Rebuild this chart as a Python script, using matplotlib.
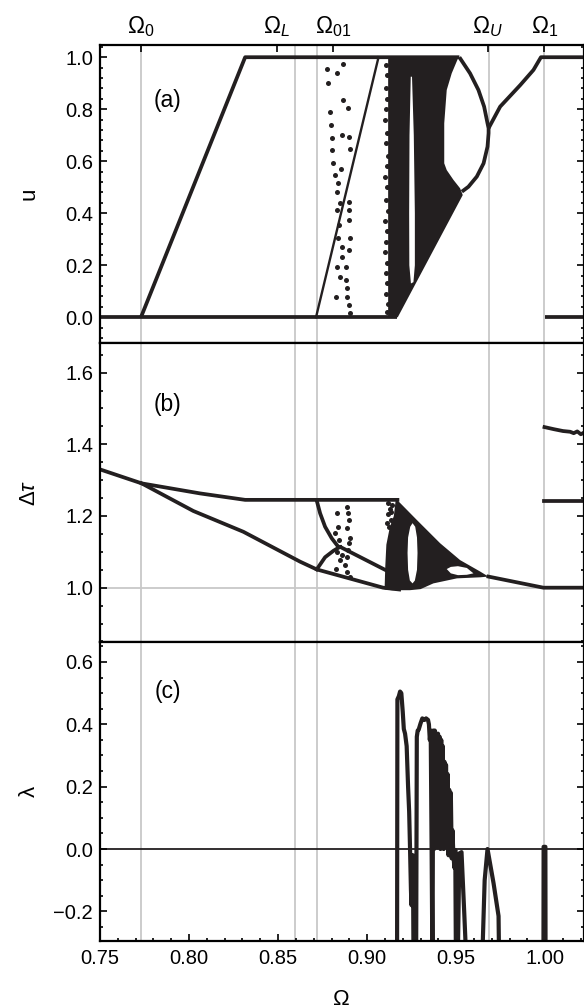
import matplotlib
matplotlib.use("Agg")
import matplotlib.pyplot as plt
from matplotlib.ticker import MultipleLocator

plt.rcParams['font.family'] = ['Liberation Sans', 'DejaVu Sans']
plt.rcParams['mathtext.fontset'] = 'custom'
plt.rcParams['mathtext.rm'] = 'Liberation Sans'
plt.rcParams['mathtext.it'] = 'Liberation Sans:italic'
plt.rcParams['font.size'] = 14.5

INK = '#231f20'
GREY = '#c8c8c8'

# marked parameter values (grey guide lines) and top tick labels
guide_x = [0.773, 0.8596, 0.8721, 0.9682, 0.9996]
top_ticks = [0.773, 0.8493, 0.8811, 0.9678, 0.9996]
top_labels = [r'$\Omega_0$', r'$\Omega_L$', r'$\Omega_{01}$', r'$\Omega_U$', r'$\Omega_1$']

# ---- panel (a): u ----
a_lines = [
    ([0.75, 0.9170], [0.0, 0.0]),
    ([0.773, 0.8315, 0.9518], [0.0, 1.0, 1.0]),
    ([0.9518, 0.9578, 0.9625, 0.9657, 0.9676, 0.9682, 0.9682, 0.9676, 0.9654, 0.9616, 0.9569, 0.9532],
     [1.0, 0.938, 0.874, 0.81, 0.746, 0.727, 0.708, 0.656, 0.592, 0.541, 0.502, 0.483]),
    ([0.9682, 0.9747, 0.9860, 0.9934, 0.9976, 1.0215], [0.727, 0.81, 0.893, 0.951, 1.0, 1.0]),
    ([0.9998, 1.0215], [0.0, 0.0]),
]
a_thin_x = [0.8713, 0.9064]
a_thin_u = [0.0, 1.0]
a_dense_x = [0.9118, 0.9118, 0.9513, 0.9475, 0.9447, 0.9433, 0.9433, 0.9447, 0.9485, 0.9522, 0.9537, 0.9172]
a_dense_u = [0.0, 1.0, 1.0, 0.938, 0.874, 0.746, 0.592, 0.566, 0.528, 0.496, 0.470, 0.0]
a_gap_x = [0.9245, 0.9252, 0.9262, 0.9268, 0.9268, 0.9260, 0.9246, 0.9237, 0.9236, 0.9238]
a_gap_u = [0.925, 0.925, 0.70, 0.40, 0.20, 0.135, 0.13, 0.20, 0.40, 0.70]
a_dots_x = [0.8774, 0.8833, 0.8867, 0.8783, 0.8863, 0.8895, 0.8792, 0.8796, 0.8805, 0.8858,
            0.8901, 0.8805, 0.8904, 0.8811, 0.8852, 0.8820, 0.8839, 0.8830, 0.8848, 0.8901,
            0.8833, 0.8901, 0.8901, 0.8844, 0.8839, 0.8904, 0.8858, 0.8901, 0.8858, 0.8833,
            0.8882, 0.8848, 0.8882, 0.8886, 0.8826, 0.8886, 0.8901, 0.8904,
            0.9105, 0.9112, 0.9104, 0.9114, 0.9108, 0.9101, 0.9113, 0.9106, 0.9115, 0.9109,
            0.9102, 0.9112, 0.9106, 0.9115, 0.9103, 0.9111, 0.9108, 0.9100, 0.9114, 0.9107,
            0.9110, 0.9104, 0.9115, 0.9109]
a_dots_u = [0.954, 0.938, 0.974, 0.900, 0.836, 0.804, 0.791, 0.740, 0.688, 0.701,
            0.692, 0.643, 0.646, 0.592, 0.569, 0.547, 0.515, 0.483, 0.438, 0.445,
            0.413, 0.413, 0.374, 0.355, 0.304, 0.304, 0.272, 0.259, 0.233, 0.195,
            0.195, 0.156, 0.143, 0.112, 0.079, 0.079, 0.047, 0.015,
            0.97, 0.93, 0.88, 0.84, 0.80, 0.76, 0.71, 0.67, 0.62, 0.58,
            0.54, 0.50, 0.45, 0.41, 0.37, 0.33, 0.29, 0.25, 0.21, 0.17,
            0.13, 0.09, 0.05, 0.02]

# ---- panel (b): delta tau ----
b_lines = [
    ([0.75, 0.7734, 0.8062, 0.8315, 0.9170], [1.330, 1.291, 1.263, 1.245, 1.245]),
    ([0.7734, 0.8024, 0.8305, 0.8624, 0.8717, 0.9090, 0.9180], [1.291, 1.214, 1.156, 1.0725, 1.051, 1.0, 0.995]),
    ([0.8717, 0.8764, 0.8811, 0.8848, 0.9120], [1.051, 1.085, 1.103, 1.114, 1.045]),
    ([0.8717, 0.8736, 0.8764, 0.8801, 0.8838, 0.8848], [1.243, 1.2075, 1.170, 1.138, 1.114, 1.114]),
    ([0.9681, 0.9990, 1.0215], [1.031, 1.0, 1.0]),
    ([0.9996, 1.0215], [1.243, 1.243]),
    ([0.9996, 1.005, 1.010, 1.014, 1.016, 1.018, 1.020, 1.0215], [1.448, 1.442, 1.437, 1.435, 1.431, 1.436, 1.428, 1.432]),
]
b_dense_x = [0.9098, 0.9102, 0.9108, 0.9128, 0.9150, 0.9160, 0.9172, 0.9279, 0.9410, 0.9522,
             0.9635, 0.9681, 0.9635, 0.9504, 0.9372, 0.9300, 0.9240, 0.9140]
b_dense_t = [0.995, 1.06, 1.12, 1.17, 1.20, 1.243, 1.243, 1.189, 1.124, 1.077,
             1.045, 1.031, 1.029, 1.026, 1.012, 0.996, 0.993, 0.993]
b_oval_x = [0.9255, 0.9270, 0.9280, 0.9283, 0.9280, 0.9268, 0.9255, 0.9240, 0.9230, 0.9227, 0.9230, 0.9242]
b_oval_t = [1.180, 1.170, 1.140, 1.097, 1.050, 1.020, 1.012, 1.020, 1.050, 1.097, 1.140, 1.170]
b_lens_x = [0.9447, 0.9470, 0.9510, 0.9560, 0.9597, 0.9560, 0.9510, 0.9470]
b_lens_t = [1.052, 1.058, 1.060, 1.055, 1.040, 1.036, 1.035, 1.040]
b_dots_x = [0.8830, 0.8839, 0.8820, 0.8844, 0.8833, 0.8848, 0.8826, 0.8858, 0.8886, 0.8895,
            0.8901, 0.8889, 0.8904, 0.8901, 0.8895, 0.8886, 0.8876, 0.8886, 0.8904,
            0.9115, 0.9128, 0.9120, 0.9135, 0.9112, 0.9140, 0.9125, 0.9132]
b_dots_t = [1.2075, 1.170, 1.152, 1.133, 1.100, 1.077, 1.051, 1.091, 1.226, 1.2075,
            1.189, 1.166, 1.138, 1.124, 1.105, 1.086, 1.063, 1.045, 1.031,
            1.235, 1.220, 1.205, 1.190, 1.180, 1.230, 1.170, 1.212]

# ---- panel (c): lyapunov exponent ----
lam_x = [0.9168, 0.9170, 0.9178, 0.9185, 0.9192, 0.9200, 0.9206, 0.9213, 0.9222, 0.9230,
         0.9236, 0.9241, 0.9246, 0.9249, 0.9252, 0.9257, 0.9261, 0.9275, 0.9279, 0.9284,
         0.9289, 0.9300, 0.9310, 0.9322, 0.9331, 0.9342, 0.9347, 0.9352, 0.9357, 0.9362,
         0.9367, 0.9371, 0.9376, 0.9380, 0.9385, 0.9389, 0.9394, 0.9398, 0.9403, 0.9407,
         0.9412, 0.9416, 0.9421, 0.9425, 0.9430, 0.9434, 0.9439, 0.9443, 0.9448, 0.9452,
         0.9457, 0.9461, 0.9466, 0.9470, 0.9475, 0.9479, 0.9484, 0.9490, 0.9495, 0.9499,
         0.9508, 0.9518, 0.9530, 0.9545, 0.9560, 0.9644, 0.9660, 0.9676, 0.9710, 0.9738,
         0.9742, 0.9990, 0.9991, 1.0001, 1.0002]
lam_y = [-0.40, 0.48, 0.49, 0.505, 0.50, 0.44, 0.385, 0.37, 0.33, 0.20,
         0.12, 0.00, -0.13, -0.18, -0.02, -0.02, -0.40, -0.40, 0.36, 0.38,
         0.382, 0.403, 0.419, 0.414, 0.419, 0.414, 0.40, 0.35, 0.38, 0.007,
         -0.40, 0.38, 0.00, 0.38, 0.01, 0.37, 0.005, 0.37, 0.02, 0.36,
         0.00, 0.35, 0.05, 0.33, 0.00, 0.28, 0.05, 0.27, 0.03, 0.24,
         -0.02, 0.19, 0.02, 0.18, -0.03, 0.06, -0.014, -0.06, -0.003, -0.40,
         -0.40, -0.014, -0.010, -0.20, -0.40, -0.40, -0.10, 0.0, -0.11, -0.215,
         -0.40, -0.40, 0.007, 0.007, -0.40]

fig = plt.figure(figsize=(5.84, 10.08), dpi=100)
L, W = 100 / 584, 483.5 / 584
ax_a = fig.add_axes([L, 1 - 343 / 1008, W, 298 / 1008])
ax_b = fig.add_axes([L, 1 - 642 / 1008, W, 299 / 1008])
ax_c = fig.add_axes([L, 1 - 941 / 1008, W, 299 / 1008])

for ax in (ax_a, ax_b, ax_c):
    ax.set_xlim(0.75, 1.0215)
    for xg in guide_x:
        ax.axvline(xg, color=GREY, lw=1.3, zorder=0)
    for sp in ax.spines.values():
        sp.set_linewidth(1.6)
    ax.tick_params(axis='y', which='both', direction='in', left=True, right=True, width=1.2)
    ax.tick_params(axis='y', which='major', length=5, pad=5)
    ax.tick_params(axis='y', which='minor', length=2.5)
    ax.yaxis.set_label_coords(-0.125, 0.5)

# (a)
for xs, ys in a_lines:
    ax_a.plot(xs, ys, color=INK, lw=2.7, solid_capstyle='butt')
ax_a.plot(a_thin_x, a_thin_u, color=INK, lw=1.7)
ax_a.fill(a_dense_x, a_dense_u, color=INK, lw=0)
ax_a.fill(a_gap_x, a_gap_u, color='white', lw=0)
ax_a.scatter(a_dots_x, a_dots_u, s=13, color=INK, lw=0)
ax_a.set_ylim(-0.099, 1.047)
ax_a.yaxis.set_major_locator(MultipleLocator(0.2))
ax_a.yaxis.set_minor_locator(MultipleLocator(0.04))
ax_a.set_ylabel('u', fontsize=16)
ax_a.set_xticks(top_ticks)
ax_a.set_xticklabels(top_labels, fontsize=16.5)
ax_a.tick_params(axis='x', which='both', direction='in', top=True, labeltop=True,
                 bottom=False, labelbottom=False, length=5, width=1.2, pad=4)
ax_a.text(0.14, 0.815, '(a)', transform=ax_a.transAxes, ha='center', va='center', fontsize=16.5)

# (b)
ax_b.axhline(1.0, color=GREY, lw=1.3, zorder=0)
for xs, ys in b_lines:
    ax_b.plot(xs, ys, color=INK, lw=2.7)
ax_b.fill(b_dense_x, b_dense_t, color=INK, lw=0)
ax_b.fill(b_oval_x, b_oval_t, color='white', lw=0)
ax_b.fill(b_lens_x, b_lens_t, color='white', lw=0)
ax_b.scatter(b_dots_x, b_dots_t, s=13, color=INK, lw=0)
ax_b.set_ylim(0.8485, 1.6826)
ax_b.yaxis.set_major_locator(MultipleLocator(0.2))
ax_b.yaxis.set_minor_locator(MultipleLocator(0.05))
ax_b.set_ylabel(r'$\Delta\tau$', fontsize=16)
ax_b.tick_params(axis='x', which='both', bottom=False, top=False, labelbottom=False)
ax_b.text(0.14, 0.793, '(b)', transform=ax_b.transAxes, ha='center', va='center', fontsize=16.5)

# (c)
ax_c.axhline(0.0, color=INK, lw=1.3, zorder=1)
ax_c.plot(lam_x, lam_y, color=INK, lw=3.0)
ax_c.set_ylim(-0.295, 0.664)
ax_c.yaxis.set_minor_locator(MultipleLocator(0.05))
ax_c.set_yticks([-0.2, 0.0, 0.2, 0.4, 0.6])
ax_c.set_yticklabels(['\u22120.2', '0.0', '0.2', '0.4', '0.6'])
ax_c.set_ylabel('\u03bb', fontsize=16)
ax_c.xaxis.set_minor_locator(MultipleLocator(0.01))
ax_c.set_xticks([0.75, 0.80, 0.85, 0.90, 0.95, 1.00])
ax_c.set_xticklabels(['0.75', '0.80', '0.85', '0.90', '0.95', '1.00'])
ax_c.tick_params(axis='x', which='both', direction='in', top=False, width=1.2)
ax_c.tick_params(axis='x', which='major', length=5, pad=6)
ax_c.tick_params(axis='x', which='minor', length=2.5)
ax_c.set_xlabel('\u03a9', fontsize=16)
ax_c.xaxis.set_label_coords(0.5, -0.16)
ax_c.text(0.14, 0.833, '(c)', transform=ax_c.transAxes, ha='center', va='center', fontsize=16.5)

fig.savefig('out.png', dpi=100)
